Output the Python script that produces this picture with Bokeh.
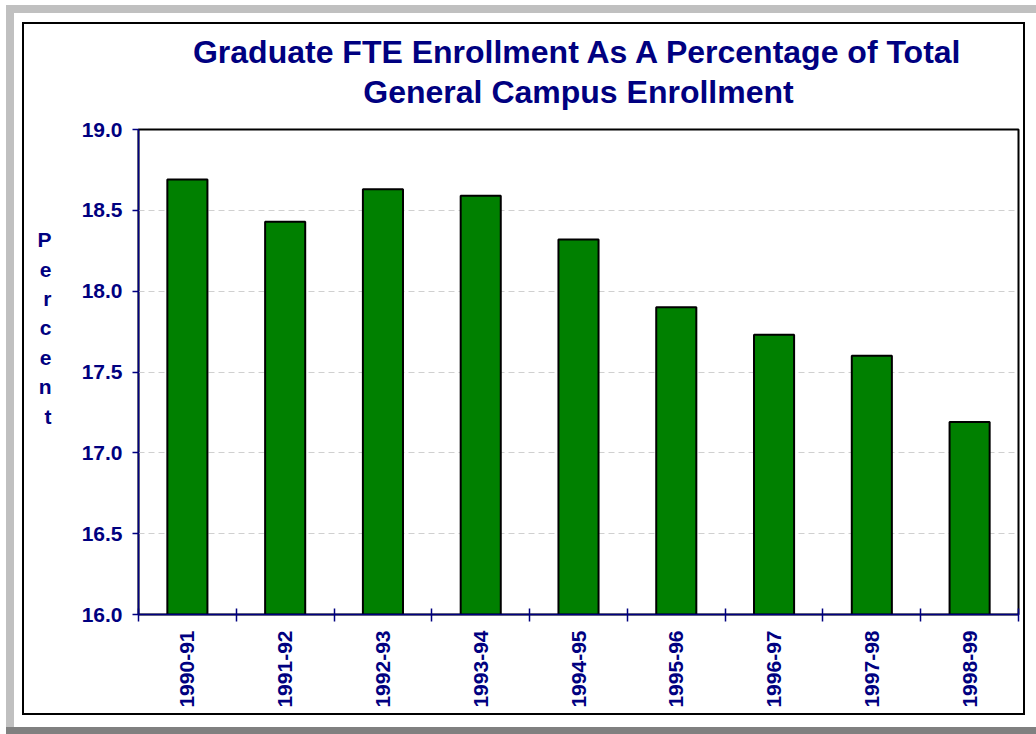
import math
from bokeh.plotting import figure
from bokeh.models import Range1d, FixedTicker, PrintfTickFormatter, LinearAxis
from bokeh.embed import file_html
from bokeh.resources import INLINE

# ---------------- data ----------------
categories = ["1990-91", "1991-92", "1992-93", "1993-94", "1994-95",
              "1995-96", "1996-97", "1997-98", "1998-99"]
values = [18.69, 18.43, 18.63, 18.59, 18.32, 17.90, 17.73, 17.60, 17.19]
y_ticks = [16.0, 16.5, 17.0, 17.5, 18.0, 18.5, 19.0]
title_lines = ["Graduate FTE Enrollment As A Percentage of Total",
               "General Campus Enrollment"]
y_label = "Percent"

# ---------------- layout ----------------
W, H = 1036, 734
FL, FT, FR, FB = 138, 129, 1018, 614  # frame edges (page px)
NAVY = "#000080"
FONT = "Liberation Sans"

n = len(categories)
centers = [i + 0.5 for i in range(n)]
bounds = list(range(n + 1))

css = """
:host {
  background:
    linear-gradient(#000,#000) 22px 22px / 1003px 2px no-repeat,
    linear-gradient(#000,#000) 22px 713px / 1003px 2px no-repeat,
    linear-gradient(#000,#000) 22px 22px / 2px 693px no-repeat,
    linear-gradient(#000,#000) 1023px 22px / 2px 693px no-repeat,
    linear-gradient(#c0c0c0,#c0c0c0) 6px 5px / 1030px 8px no-repeat,
    linear-gradient(#c0c0c0,#c0c0c0) 6px 5px / 8px 722px no-repeat,
    linear-gradient(#808080,#808080) 6px 727px / 1030px 7px no-repeat,
    #ffffff !important;
}
"""

p = figure(width=W, height=H, output_backend="svg", toolbar_location=None,
           x_range=Range1d(0, n), y_range=Range1d(y_ticks[0], y_ticks[-1]),
           min_border_left=FL, min_border_right=W - FR,
           min_border_top=FT, min_border_bottom=H - FB,
           stylesheets=[css])
p.background_fill_color = "white"
p.border_fill_color = None
p.outline_line_color = "black"
p.outline_line_width = 2

xa = p.below[0]
ya = p.left[0]

# bars
p.vbar(x=centers, top=values, bottom=y_ticks[0], width=0.41,
       fill_color="#008000", line_color="black", line_width=2)

# grid
p.xgrid.grid_line_color = None
yt = FixedTicker(ticks=y_ticks)
ya.ticker = yt
p.ygrid.ticker = yt
p.ygrid.grid_line_color = "#d0d0d0"
p.ygrid.grid_line_dash = "6 4"
p.ygrid.grid_line_width = 1

# y axis
ya.formatter = PrintfTickFormatter(format="%.1f")
ya.axis_line_color = NAVY
ya.axis_line_width = 1.5
ya.major_tick_line_color = NAVY
ya.major_tick_line_width = 1.5
ya.major_tick_in = 0
ya.major_tick_out = 6
ya.minor_tick_line_color = None
ya.major_label_text_font = FONT
ya.major_label_text_font_size = "21px"
ya.major_label_text_font_style = "bold"
ya.major_label_text_color = NAVY
ya.major_label_standoff = 10

# x axis
xa.ticker = FixedTicker(ticks=centers, minor_ticks=bounds)
xa.major_label_overrides = {c: lab for c, lab in zip(centers, categories)}
xa.axis_line_color = NAVY
xa.axis_line_width = 1.5
xa.major_tick_line_color = None
xa.major_tick_in = 0
xa.major_tick_out = 7
xa.minor_tick_line_color = NAVY
xa.minor_tick_line_width = 1.5
xa.minor_tick_in = 6
xa.minor_tick_out = 7
xa.major_label_orientation = math.pi / 2
xa.major_label_text_font = FONT
xa.major_label_text_font_size = "21px"
xa.major_label_text_font_style = "bold"
xa.major_label_text_color = NAVY
xa.major_label_standoff = 9


def bare_axis(**kw):
    """An axis without line, ticks or tick labels, used only for its label."""
    return LinearAxis(ticker=FixedTicker(ticks=[]),
                      axis_line_color=None, major_tick_line_color=None,
                      minor_tick_line_color=None, major_tick_out=0, minor_tick_out=0,
                      major_tick_in=0, minor_tick_in=0,
                      major_label_standoff=0, major_label_text_font_size="0px",
                      axis_label_text_font=FONT, axis_label_text_font_style="bold",
                      axis_label_text_color=NAVY, **kw)


# stacked "Percent" label (trailing empty lines lift it above the axis centre)
p.add_layout(bare_axis(axis_label="\n".join(y_label) + "\n\n\n",
                       axis_label_orientation="horizontal",
                       axis_label_standoff=27,
                       axis_label_text_font_size="21px",
                       axis_label_text_line_height=1.277), "left")

# two-line centred title
p.add_layout(bare_axis(axis_label="\n".join(title_lines),
                       axis_label_standoff=20,
                       axis_label_text_font_size="32px",
                       axis_label_text_line_height=1.10), "above")

open("out.html", "w").write(file_html(p, INLINE))
